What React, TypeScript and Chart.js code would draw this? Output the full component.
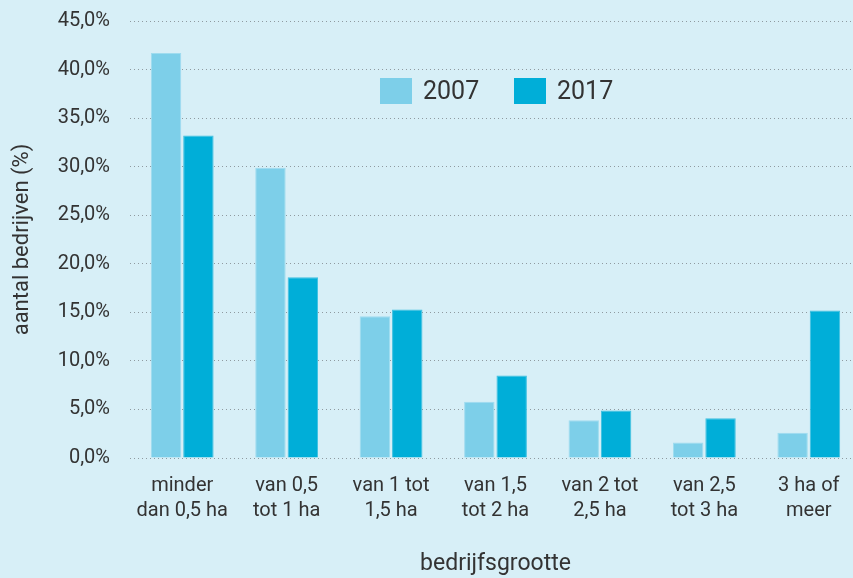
import React, { useEffect, useRef } from 'react';
import { Chart, registerables } from 'chart.js';

Chart.register(...registerables);

const categories: string[][] = [
  ['minder', 'dan 0,5 ha'],
  ['van 0,5', 'tot 1 ha'],
  ['van 1 tot', '1,5 ha'],
  ['van 1,5', 'tot 2 ha'],
  ['van 2 tot', '2,5 ha'],
  ['van 2,5', 'tot 3 ha'],
  ['3 ha of', 'meer'],
];
const values2007 = [41.7, 29.9, 14.6, 5.8, 3.9, 1.6, 2.6];
const values2017 = [33.2, 18.6, 15.3, 8.5, 4.9, 4.1, 15.2];
const seriesLabels = ['2007', '2017'];
const yMax = 45;
const yStep = 5;

const BG = '#d7eff7';
const C2007 = '#7dcfe9';
const C2017 = '#00aed8';
const TEXT = '#333333';
const FONT = 'Roboto, "Noto Sans", sans-serif';

export default function App() {
  const ref = useRef<HTMLCanvasElement | null>(null);

  useEffect(() => {
    if (!ref.current) return;
    const chart = new Chart(ref.current, {
      type: 'bar',
      data: {
        labels: categories,
        datasets: [
          {
            label: seriesLabels[0],
            data: values2007,
            backgroundColor: C2007,
            borderColor: '#9fdcef',
            borderWidth: 1,
            categoryPercentage: 0.62,
            barPercentage: 0.94,
          },
          {
            label: seriesLabels[1],
            data: values2017,
            backgroundColor: C2017,
            borderColor: '#3fc0e0',
            borderWidth: 1,
            categoryPercentage: 0.62,
            barPercentage: 0.94,
          },
        ],
      },
      options: {
        animation: false,
        responsive: false,
        maintainAspectRatio: false,
        layout: { padding: { top: 21, right: 1, left: 0, bottom: 0 } },
        plugins: {
          legend: { display: false },
          tooltip: { enabled: false },
        },
        scales: {
          x: {
            grid: { display: false, drawTicks: false },
            border: { display: false },
            ticks: {
              color: TEXT,
              font: { family: FONT, size: 20, lineHeight: 1.25 },
              padding: 15,
              maxRotation: 0,
              autoSkip: false,
            },
            title: {
              display: true,
              text: 'bedrijfsgrootte',
              color: TEXT,
              font: { family: FONT, size: 23, lineHeight: 1.2 },
              padding: { top: 0, bottom: 0 },
            },
            afterFit: (scale: any) => {
              scale.height = 120;
            },
          },
          y: {
            min: 0,
            max: yMax,
            ticks: {
              stepSize: yStep,
              color: TEXT,
              font: { family: FONT, size: 20 },
              padding: 20,
              callback: (v: any) => Number(v).toFixed(1).replace('.', ',') + '%',
            },
            grid: {
              color: '#8f9aa0',
              lineWidth: 1,
              drawTicks: false,
            },
            border: { display: false, dash: [1, 3] },
            title: {
              display: true,
              text: 'aantal bedrijven (%)',
              color: TEXT,
              font: { family: FONT, size: 22, lineHeight: 1.2 },
              padding: { top: 9, bottom: 0 },
            },
            afterFit: (scale: any) => {
              scale.width = 130;
              scale.paddingTop = 0;
              scale.paddingBottom = 0;
            },
          },
        },
      },
    });
    return () => chart.destroy();
  }, []);

  const legendItem = (left: number, color: string, text: string) => (
    <div style={{ position: 'absolute', left, top: 78, height: 26, display: 'flex', alignItems: 'center' }}>
      <div style={{ width: 32, height: 26, background: color }} />
      <span style={{ marginLeft: 11, fontFamily: FONT, fontSize: 25, color: TEXT, lineHeight: '26px' }}>{text}</span>
    </div>
  );

  return (
    <div style={{ position: 'fixed', left: 0, top: 0, width: 862, height: 578, background: BG, overflow: 'hidden' }}>
      <canvas ref={ref} width={862} height={578} style={{ display: 'block', width: 862, height: 578 }} />
      {legendItem(380, C2007, seriesLabels[0])}
      {legendItem(514, C2017, seriesLabels[1])}
    </div>
  );
}
